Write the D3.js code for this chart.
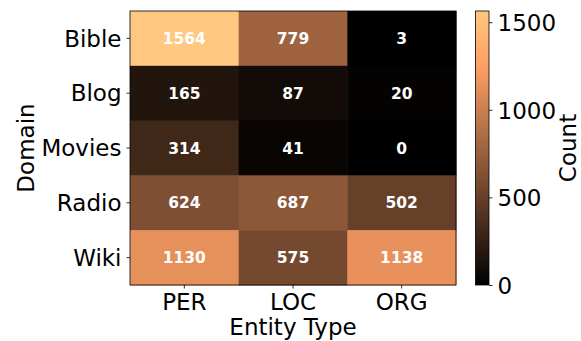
<!DOCTYPE html>
<html><head><meta charset="utf-8">
<script src="https://cdn.jsdelivr.net/npm/d3@7"></script>
<style>body{margin:0;background:#fff}svg{display:block}text{font-family:"DejaVu Sans",sans-serif}</style>
</head><body>
<svg id="c" width="581" height="341"></svg>
<script>
const domains = ["Bible","Blog","Movies","Radio","Wiki"];
const entityTypes = ["PER","LOC","ORG"];
const counts = [
  [1564,779,3],
  [165,87,20],
  [314,41,0],
  [624,687,502],
  [1130,575,1138]
];
const cbTicks = [0,500,1000,1500];

const FS = 23;
const svg = d3.select("#c");
const L=130,R=456,T=11,B=285;
const x = d3.scaleBand().domain(entityTypes).range([L,R]);
const y = d3.scaleBand().domain(domains).range([T,B]);
const vmax = d3.max(counts.flat());
const copper = v => { const t=v/vmax; return d3.rgb(Math.min(1,1.25*t)*255, 0.7812*t*255, 0.4975*t*255).toString(); };

const cells=[];
domains.forEach((d,i)=>entityTypes.forEach((e,j)=>cells.push({d,e,v:counts[i][j]})));
svg.append("g").selectAll("rect").data(cells).join("rect")
  .attr("x",c=>x(c.e)).attr("y",c=>y(c.d)).attr("width",x.bandwidth()+0.5).attr("height",y.bandwidth()+0.5)
  .attr("fill",c=>copper(c.v));
svg.append("g").selectAll("text").data(cells).join("text")
  .attr("x",c=>x(c.e)+x.bandwidth()/2).attr("y",c=>y(c.d)+y.bandwidth()/2)
  .attr("dy","0.36em").attr("text-anchor","middle").attr("fill","#fff")
  .attr("font-weight","bold").attr("font-size",15.5).text(c=>c.v);
svg.append("rect").attr("x",L).attr("y",T).attr("width",R-L).attr("height",B-T)
  .attr("fill","none").attr("stroke","#000").attr("stroke-width",0.8);

const xa = svg.append("g").attr("transform",`translate(0,${B})`).call(d3.axisBottom(x).tickSize(3.5).tickPadding(6));
const ya = svg.append("g").attr("transform",`translate(${L},0)`).call(d3.axisLeft(y).tickSize(3.5).tickPadding(5));
[xa,ya].forEach(a=>{a.select(".domain").remove();a.selectAll("text").attr("font-size",FS).attr("font-family","DejaVu Sans").attr("fill","#000");a.selectAll("line").attr("stroke","#000").attr("stroke-width",0.8);});
xa.selectAll("text").attr("y",25).attr("dy",0);
ya.selectAll("text").attr("dy","0.36em");
svg.append("text").attr("x",(L+R)/2).attr("y",335).attr("text-anchor","middle").attr("font-size",FS).text("Entity Type");
svg.append("text").attr("transform",`translate(34,${(T+B)/2}) rotate(-90)`).attr("text-anchor","middle").attr("font-size",FS).text("Domain");

// colorbar
const cx0=475.5, cx1=489;
const cy = d3.scaleLinear().domain([0,vmax]).range([B,T]);
const defs=svg.append("defs");
const g=defs.append("linearGradient").attr("id","cg").attr("x1",0).attr("y1",1).attr("x2",0).attr("y2",0);
d3.range(0,1.0001,0.05).forEach(t=>g.append("stop").attr("offset",t).attr("stop-color",copper(t*vmax)));
svg.append("rect").attr("x",cx0).attr("y",T).attr("width",cx1-cx0).attr("height",B-T).attr("fill","url(#cg)")
  .attr("stroke","#000").attr("stroke-width",0.8);
const ca = svg.append("g").attr("transform",`translate(${cx1},0)`).call(d3.axisRight(cy).tickValues(cbTicks).tickSize(3.5).tickPadding(5).tickFormat(d3.format("d")));
ca.select(".domain").remove();
ca.selectAll("text").attr("font-size",FS).attr("font-family","DejaVu Sans").attr("fill","#000").attr("dy","0.36em");
ca.selectAll("line").attr("stroke","#000").attr("stroke-width",0.8);
svg.append("text").attr("transform",`translate(576,${(T+B)/2}) rotate(-90)`).attr("text-anchor","middle").attr("font-size",FS).text("Count");
</script>
</body></html>
